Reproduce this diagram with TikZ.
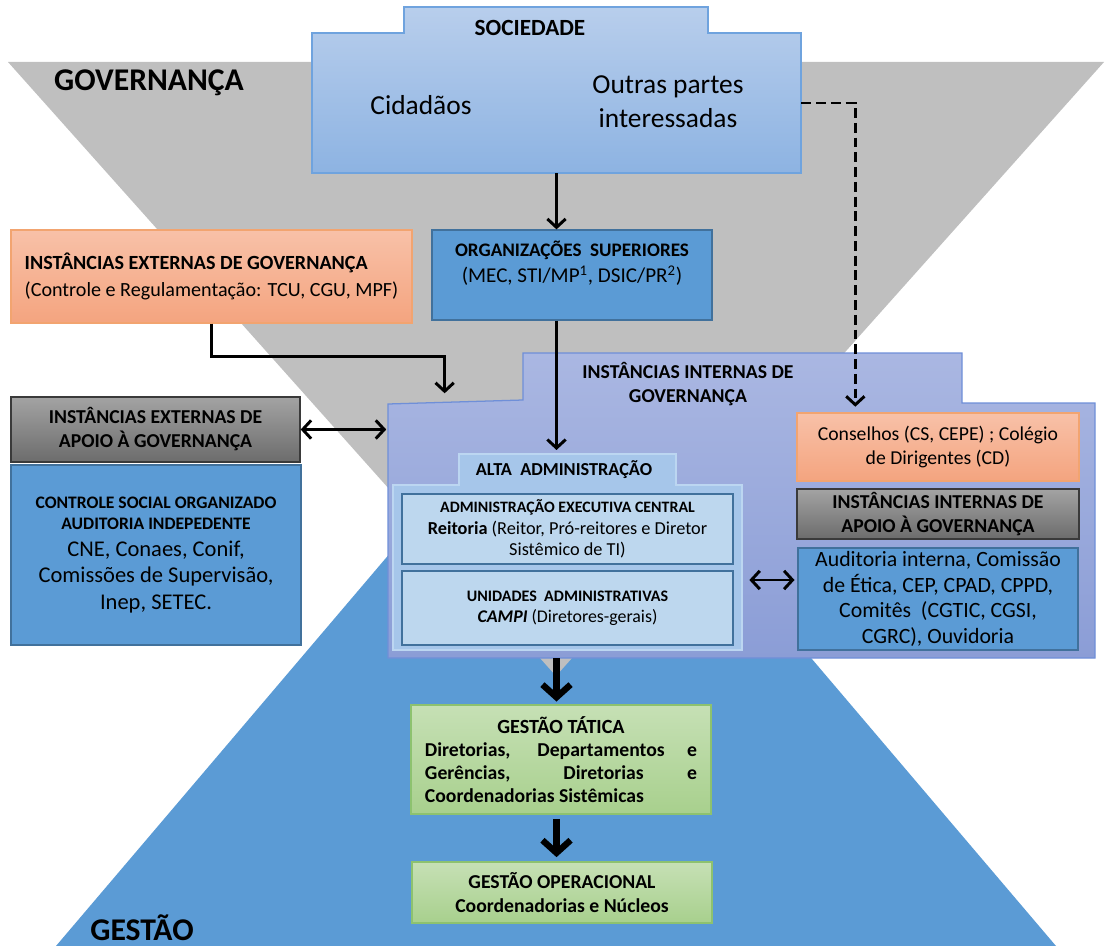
\documentclass[tikz,border=0pt]{standalone}
\usepackage{fontspec}
\setmainfont{Carlito}
\usetikzlibrary{shapes,arrows.meta,calc,positioning}

\definecolor{govgray}{HTML}{BFBFBF}
\definecolor{gesblue}{HTML}{5B9BD5}
\definecolor{ofblue}{HTML}{5B9BD5}
\definecolor{ofblueline}{HTML}{41719C}
\definecolor{soctop}{HTML}{B8CEEC}
\definecolor{socbot}{HTML}{8DB3E2}
\definecolor{socline}{HTML}{6FA3DE}
\definecolor{ortop}{HTML}{F8C1A8}
\definecolor{orbot}{HTML}{F4A47F}
\definecolor{orline}{HTML}{F2A470}
\definecolor{gytop}{HTML}{A3A3A3}
\definecolor{gybot}{HTML}{6C6C6C}
\definecolor{gyline}{HTML}{3A3A3A}
\definecolor{inttop}{HTML}{AAB7E2}
\definecolor{intbot}{HTML}{8B9DD6}
\definecolor{intline}{HTML}{6F8FD8}
\definecolor{altafill}{HTML}{A6C6EA}
\definecolor{altaline}{HTML}{BCD6F1}
\definecolor{palefill}{HTML}{BDD7EE}
\definecolor{gntop}{HTML}{C6E0B5}
\definecolor{gnbot}{HTML}{A8D08D}
\definecolor{gnline}{HTML}{8DC26F}

\newcommand{\setfs}[2]{\fontsize{#1}{#2}\selectfont}

\begin{document}
\begin{tikzpicture}[x=0.025cm, y=-0.025cm,
    box/.style={rectangle, inner sep=2pt, align=center, line width=0.9pt},
    bluebox/.style={box, fill=ofblue, draw=ofblueline},
    orangebox/.style={box, top color=ortop, bottom color=orbot, draw=orline},
    graybox/.style={box, top color=gytop, bottom color=gybot, draw=gyline},
    palebox/.style={box, fill=palefill, draw=ofblueline, line width=1.6pt},
    greenbox/.style={box, top color=gntop, bottom color=gnbot, draw=gnline},
    area/.style={rectangle, inner sep=0pt},
    conn/.style={line width=2.1pt, -{Straight Barb[length=6pt,width=13pt]}},
    dblconn/.style={line width=2.1pt, {Straight Barb[length=6pt,width=13pt]}-{Straight Barb[length=6pt,width=13pt]}},
    dashconn/.style={conn, dash pattern=on 7pt off 3.5pt},
    bigconn/.style={line width=4.5pt, -{Straight Barb[length=9pt,width=20pt]}}]
    \useasboundingbox (0,0) rectangle (1120,946);

    % fundo: gestao e governanca
    \begin{scope}
        \clip (0,0) rectangle (1120,946);
        \fill[gesblue] (556,358) -- (1056,946) -- (56,946) -- cycle;
        \fill[govgray] (8,62) -- (1104,62) -- (556,676) -- cycle;
    \end{scope}
    \node[font=\bfseries\setfs{22.5}{26}] (govlabel) at (149,83) {GOVERNANÇA};
    \node[font=\bfseries\setfs{22.5}{26}, inner sep=0pt, anchor=base] (geslabel) at (142,940) {GESTÃO};

    % sociedade
    \path[top color=soctop, bottom color=socbot, draw=socline, line width=0.9pt]
        (312,33) -- (404,33) -- (404,7) -- (708,7) -- (708,33) -- (801,33) -- (801,173) -- (312,173) -- cycle;
    \node[area, minimum width=12.225cm, minimum height=3.5cm] (soc) at (556.5,103) {};
    \node[font=\bfseries\setfs{16.5}{19}] (soctitle) at (530,28) {SOCIEDADE};
    \node[font=\setfs{19.5}{24}] (cid) at (421,105) {Cidadãos};
    \node[font=\setfs{19.5}{24}, align=center] (outras) at (668,102) {Outras partes\\interessadas};

    % instancias externas
    \node[orangebox, align=left, minimum width=10.025cm, minimum height=2.325cm, font=\setfs{14.3}{19}] (extgov) at (211.5,276.5)
        {\textbf{INSTÂNCIAS EXTERNAS DE GOVERNANÇA}\\(Controle e Regulamentação: TCU, CGU, MPF)};
    \node[bluebox, minimum width=7cm, minimum height=2.25cm] (orgsup) at (572,275) {};
    \node[font=\setfs{15}{18.5}, align=center] (orgsuptext) at (572,263.5)
        {\bfseries\setfs{13.6}{18.5}ORGANIZAÇÕES\ \ SUPERIORES\\(MEC, STI/MP\textsuperscript{1}, DSIC/PR\textsuperscript{2})};
    \node[graybox, minimum width=7.225cm, minimum height=1.625cm, font=\bfseries\setfs{14}{17}] (extapoio) at (155.5,429.5)
        {INSTÂNCIAS EXTERNAS DE\\APOIO À GOVERNANÇA};
    \node[bluebox, minimum width=7.25cm, minimum height=4.5cm, font=\setfs{16}{19}] (ctrlsoc) at (156,555)
        {\bfseries\setfs{12.5}{15}CONTROLE SOCIAL ORGANIZADO\\[-4pt]\bfseries\setfs{12.5}{15}AUDITORIA INDEPEDENTE\\
         CNE, Conaes, Conif,\\Comissões de Supervisão,\\Inep, SETEC.};

    % instancias internas
    \path[top color=inttop, bottom color=intbot, draw=intline, line width=0.9pt]
        (388,404) -- (523,400) -- (523,353) -- (962,353) -- (962,403) -- (1095,403) -- (1095,658) -- (388,658) -- cycle;
    \node[area, minimum width=17.675cm, minimum height=6.4cm] (intgov) at (741.5,530) {};
    \node[font=\bfseries\setfs{14}{17}, align=center] (intgovtitle) at (688,384) {INSTÂNCIAS INTERNAS DE\\GOVERNANÇA};

    \path[fill=altafill, draw=altaline, line width=0.9pt]
        (393,485) -- (459,485) -- (459,454) -- (676,454) -- (676,485) -- (742,485) -- (742,650) -- (393,650) -- cycle;
    \node[area, minimum width=8.725cm, minimum height=4.125cm] (alta) at (567.5,567.5) {};
    \node[area, minimum width=5.425cm, minimum height=0.775cm, font=\bfseries\setfs{13}{16}] (altatab) at (564,470) {ALTA\ \ ADMINISTRAÇÃO};
    \node[palebox, minimum width=8.275cm, minimum height=1.75cm, font=\setfs{13}{15.5}] (admexec) at (567.5,529)
        {\bfseries\setfs{11.3}{15.5}ADMINISTRAÇÃO EXECUTIVA CENTRAL\\\textbf{Reitoria} (Reitor, Pró-reitores e Diretor\\Sistêmico de TI)};
    \node[palebox, minimum width=8.275cm, minimum height=1.85cm, font=\setfs{12.7}{15}] (unid) at (567.5,608)
        {\bfseries\setfs{11.4}{15}UNIDADES\ \ ADMINISTRATIVAS\\\textbf{\textit{CAMPI}} (Diretores-gerais)};

    \node[orangebox, minimum width=7.05cm, minimum height=1.7cm, font=\setfs{14}{17.7}] (consel) at (938,447)
        {Conselhos (CS, CEPE) ; Colégio\\de Dirigentes (CD)};
    \node[graybox, minimum width=7.05cm, minimum height=1.25cm, font=\bfseries\setfs{14}{17}] (intapoio) at (938,514)
        {INSTÂNCIAS INTERNAS DE\\APOIO À GOVERNANÇA};
    \node[bluebox, minimum width=7cm, minimum height=2.55cm, font=\setfs{15.5}{18.2}] (audit) at (938,599)
        {Auditoria interna, Comissão\\de Ética, CEP, CPAD, CPPD,\\Comitês\ \ (CGTIC, CGSI,\\CGRC), Ouvidoria};

    % gestao
    \node[greenbox, minimum width=7.5cm, minimum height=2.725cm, text width=6.8cm, align=justify,
        font=\bfseries\setfs{14}{16.5}, execute at begin node=\setlength{\parindent}{0pt}] (tatica) at (561,759.5)
        {{\centering\setfs{14.3}{16.5}GESTÃO TÁTICA\par}Diretorias, Departamentos e\linebreak Gerências, Diretorias e\linebreak Coordenadorias Sistêmicas};
    \node[greenbox, minimum width=7.5cm, minimum height=1.525cm, font=\bfseries\setfs{14}{17}] (operac) at (562,892.5)
        {GESTÃO OPERACIONAL\\Coordenadorias e Núcleos};

    % conectores
    \draw[conn] (soc.south) -- (soc.south |- orgsup.north);
    \draw[conn, shorten >=3pt] (soc.south |- orgsup.south) -- (soc.south |- altatab.north);
    \draw[conn, shorten >=6pt] (extgov.south) -- ++(0,33) -| ($(intgov.north west)+(57,0)$);
    \draw[dblconn, shorten >=1pt] (extapoio.east) -- (extapoio.east -| intgov.west);
    \draw[dashconn, shorten >=4pt] (soc.east) -| ($(consel.north west)+(59,0)$);
    \draw[dblconn, shorten <=5pt, shorten >=2pt] ($(alta.east)+(0,12.5)$) -- ($(audit.west |- alta.east)+(0,12.5)$);
    \draw[bigconn, shorten >=2pt] (soc.south |- intgov.south) -- (soc.south |- tatica.north);
    \draw[bigconn, shorten <=3pt, shorten >=3pt] (soc.south |- tatica.south) -- (soc.south |- operac.north);
\end{tikzpicture}
\end{document}
